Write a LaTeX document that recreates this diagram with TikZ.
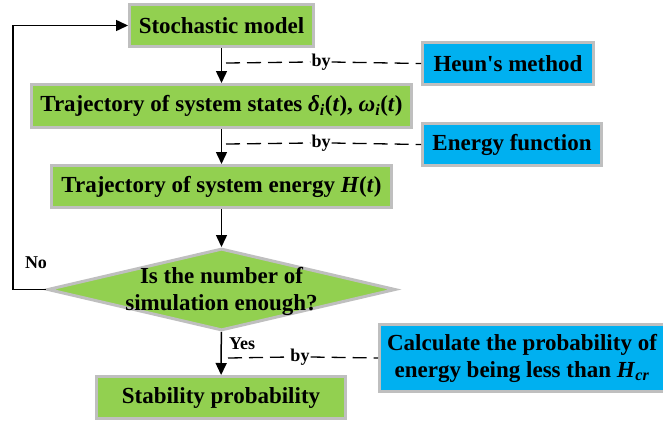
\documentclass[tikz,border=0pt]{standalone}
\usepackage{fontspec}
\setmainfont{Liberation Serif}[Ligatures=TeXOff]
\usetikzlibrary{shapes.geometric,arrows.meta}
\definecolor{boxgreen}{HTML}{92D050}
\definecolor{boxblue}{HTML}{00B0F0}
\definecolor{boxgray}{HTML}{BFBFBF}
\begin{document}
\begin{tikzpicture}[x=1pt,y=-1pt,
  font=\fontsize{23}{27}\selectfont\bfseries,
  gbox/.style={draw=boxgray, line width=3pt, fill=boxgreen, inner sep=0pt, align=center},
  bbox/.style={draw=boxgray, line width=3pt, fill=boxblue, inner sep=0pt, align=center},
  flow/.style={line width=1.5pt, -{Triangle[length=12pt,width=11pt]}},
  link/.style={line width=1.3pt, dash pattern=on 14pt off 7pt},
  lbl/.style={inner sep=1pt}
]
\useasboundingbox (0,0) rectangle (663,423);

% main flow
\node[gbox, minimum width=184pt, minimum height=42pt] (stoch) at (221.5,25.5) {Stochastic model};
\node[gbox, minimum width=380pt, minimum height=43pt] (traj) at (221.5,106) {Trajectory of system states \textit{δ}\textsubscript{\textit{i}}(\textit{t}), \textit{ω}\textsubscript{\textit{i}}(\textit{t})};
\node[gbox, minimum width=340pt, minimum height=42pt] (energy) at (221.5,186.5) {Trajectory of system energy \textit{H}(\textit{t})};
\node[diamond, draw=boxgray, line width=3pt, fill=boxgreen, inner sep=0pt, minimum width=348pt, minimum height=82pt] (dia) at (221.5,289.5) {};
\node[align=center, inner sep=0pt] (diatext) at (221.5,291) {Is the number of\\simulation enough?};
\node[gbox, minimum width=249pt, minimum height=42pt] (stab) at (221,397.5) {Stability probability};

% side boxes
\node[bbox, minimum width=171pt, minimum height=42pt] (heun) at (508,63.5) {Heun's method};
\node[bbox, minimum width=179pt, minimum height=42pt] (efun) at (512,144.5) {Energy function};
\node[bbox, minimum width=285pt, minimum height=67pt] (calc) at (522,358) {Calculate the probability of\\energy being less than \textit{H}\textsubscript{\textit{cr}}};

% arrows
\draw[flow] (stoch) -- (traj);
\draw[flow] (traj) -- (energy);
\draw[flow] (energy) -- (dia);
\draw[flow] (dia) -- (stab);
\draw[flow] (dia.west) -- ++(-33,0) |- (stoch.west);

% labels
\node[lbl] (no) at (36,263) {\fontsize{18}{20}\selectfont No};
\node[lbl] (yes) at (242,344) {\fontsize{18}{20}\selectfont Yes};

% dashed links
\coordinate (d1) at (226,63);
\node[lbl] (by1) at (321,62) {\fontsize{18}{20}\selectfont by};
\draw[link] (d1) -- (by1.west);
\draw[link] (by1.east) -- (heun.west);

\coordinate (d2) at (226,144);
\node[lbl] (by2) at (321,143) {\fontsize{18}{20}\selectfont by};
\draw[link] (d2) -- (by2.west);
\draw[link] (by2.east) -- (efun.west);

\coordinate (d3) at (228,358);
\node[lbl] (by3) at (300,357) {\fontsize{18}{20}\selectfont by};
\draw[link] (d3) -- (by3.west);
\draw[link] (by3.east) -- (calc.west);
\end{tikzpicture}
\end{document}
